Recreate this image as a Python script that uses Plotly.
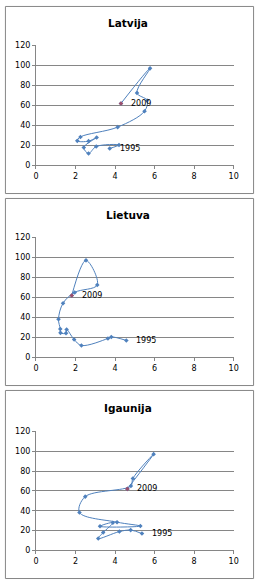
import plotly.graph_objects as go

years = list(range(1995, 2010))
# shared vertical variable (same for all three countries)
y_vals = [17.0, 20.5, 19.0, 12.0, 18.0, 28.0, 24.3, 24.6, 28.5, 38.3, 54.2, 65.0, 72.5, 97.0, 62.0]

countries = ["Latvija", "Lietuva", "Igaunija"]
x_latvija = [3.73, 4.20, 3.05, 2.66, 2.42, 3.07, 2.66, 2.09, 2.25, 4.13, 5.49, 5.62, 5.11, 5.77, 4.30]
x_lietuva = [4.57, 3.81, 3.64, 2.30, 1.93, 1.55, 1.52, 1.24, 1.23, 1.14, 1.37, 1.96, 3.10, 2.53, 1.81]
x_igaunija = [5.36, 4.79, 4.22, 3.15, 3.40, 3.89, 3.24, 5.28, 4.10, 2.20, 2.49, 4.80, 4.90, 5.95, 4.62]
x_series = [x_latvija, x_lietuva, x_igaunija]

x_ticks = [0, 2, 4, 6, 8, 10]
y_ticks = [0, 20, 40, 60, 80, 100, 120]

W, H = 261, 585
LINE = "#4F81BD"
GRID = "#868686"
END_MARK = "#9B4F6E"

# pixel geometry of each panel (top px of 120, px of 0, border box)
panels = [
    dict(y120=42, y0=164, box=(2.5, 2.5, 258.5, 192.5), title_y=19),
    dict(y120=237, y0=359, box=(2.5, 197.5, 258.5, 387.5), title_y=214),
    dict(y120=434, y0=555, box=(2.5, 392.5, 258.5, 583.5), title_y=410),
]
x_left, x_right = 34, 238

fig = go.Figure()
annotations = []
shapes = []
for i, (name, xs, p) in enumerate(zip(countries, x_series, panels)):
    n = "" if i == 0 else str(i + 1)
    fig.add_trace(go.Scatter(
        x=xs, y=y_vals, mode="lines+markers",
        line=dict(color=LINE, width=1, shape="spline", smoothing=1.0),
        marker=dict(symbol="diamond", size=3.5, color=LINE),
        xaxis="x" + n, yaxis="y" + n, showlegend=False, hoverinfo="skip",
    ))
    # highlight final point
    fig.add_trace(go.Scatter(
        x=[xs[-1]], y=[y_vals[-1]], mode="markers",
        marker=dict(symbol="diamond", size=3.5, color=END_MARK),
        xaxis="x" + n, yaxis="y" + n, showlegend=False, hoverinfo="skip",
    ))
    common = dict(
        showgrid=False, zeroline=False, showline=True, linecolor=GRID, linewidth=1,
        ticks="outside", ticklen=3, tickcolor=GRID,
        tickfont=dict(family="DejaVu Sans", size=8, color="#000000"),
    )
    fig.layout["xaxis" + n] = dict(
        common, domain=[x_left / W, x_right / W], range=[0, 10],
        tickvals=x_ticks, anchor="y" + n,
    )
    fig.layout["yaxis" + n] = dict(
        common, domain=[1 - p["y0"] / H, 1 - p["y120"] / H], range=[0, 120],
        tickvals=y_ticks, anchor="x" + n,
    )
    fig.layout["yaxis" + n]["showgrid"] = True
    fig.layout["yaxis" + n]["gridcolor"] = GRID
    fig.layout["yaxis" + n]["gridwidth"] = 1

    annotations.append(dict(
        text="<b>" + name + "</b>", xref="paper", yref="paper",
        x=0.494, y=1 - p["title_y"] / H, xanchor="center", yanchor="middle",
        showarrow=False, font=dict(family="DejaVu Sans", size=10.5, color="#000000"),
    ))
    for k in (0, -1):
        annotations.append(dict(
            text=str(years[k]), xref="x" + n, yref="y" + n,
            x=xs[k], y=y_vals[k], xanchor="left", yanchor="middle", xshift=8,
            showarrow=False, font=dict(family="DejaVu Sans", size=8, color="#000000"),
        ))
    bx0, by0, bx1, by1 = p["box"]
    shapes.append(dict(
        type="rect", xref="paper", yref="paper",
        x0=bx0 / W, x1=bx1 / W, y0=1 - by1 / H, y1=1 - by0 / H,
        line=dict(color=GRID, width=1), layer="below",
    ))

fig.update_layout(
    width=W, height=H, margin=dict(l=0, r=0, t=0, b=0),
    paper_bgcolor="white", plot_bgcolor="white",
    annotations=annotations, shapes=shapes,
)
fig.write_html("out.html")
